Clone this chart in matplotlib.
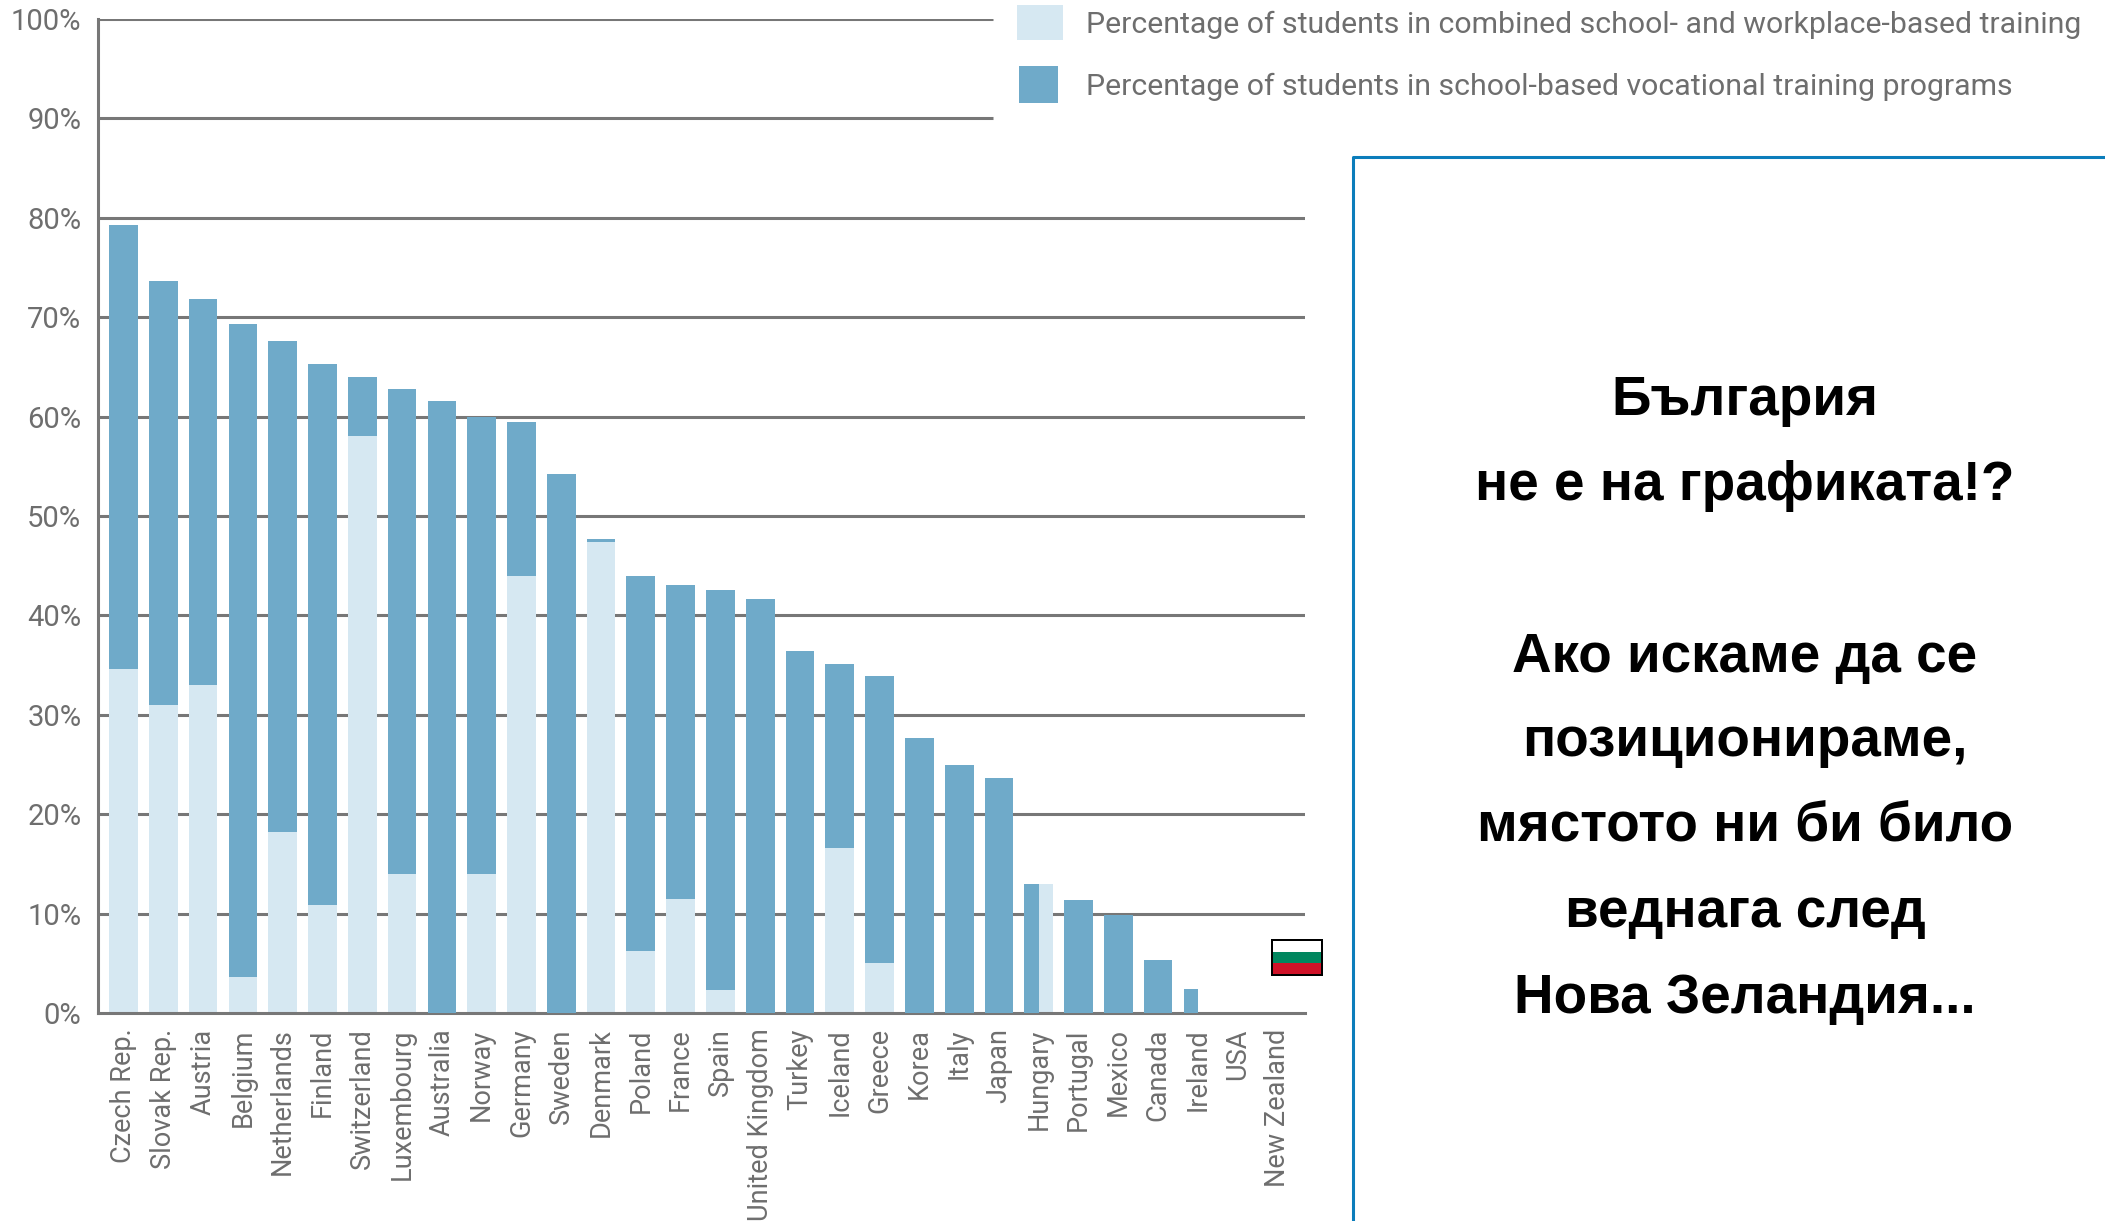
import matplotlib
matplotlib.use("Agg")
import matplotlib.pyplot as plt
from matplotlib.patches import Rectangle
import numpy as np

# --- data ---
countries = ["Czech Rep.", "Slovak Rep.", "Austria", "Belgium", "Netherlands", "Finland",
             "Switzerland", "Luxembourg", "Australia", "Norway", "Germany", "Sweden",
             "Denmark", "Poland", "France", "Spain", "United Kingdom", "Turkey", "Iceland",
             "Greece", "Korea", "Italy", "Japan", "Hungary", "Portugal", "Mexico", "Canada",
             "Ireland", "USA", "New Zealand"]
combined = [34.6, 31.0, 33.0, 3.6, 18.2, 10.9, 58.0, 14.0, 0, 14.0, 44.0, 0, 47.4, 6.2, 11.5,
            2.3, 0, 0, 16.6, 5.0, 0, 0, 0, 13.0, 0, 0, 0, 0, 0, 0]
school_based = [44.7, 42.6, 38.8, 65.7, 49.4, 54.4, 6.0, 48.8, 61.6, 46.0, 15.5, 54.2, 0.3,
                37.8, 31.6, 40.3, 41.6, 36.4, 18.5, 28.9, 27.7, 25.0, 23.6, 13.0, 11.4, 9.9,
                5.3, 2.4, 0, 0]
# in these two the series stand side by side in the source instead of stacked
side_by_side = ["Hungary", "Ireland"]
y_ticks = [0, 10, 20, 30, 40, 50, 60, 70, 80, 90, 100]

legend_labels = ["Percentage of students in combined school- and workplace-based training",
                 "Percentage of students in school-based vocational training programs"]
note_lines = ["България", "не е на графиката!?", "Ако искаме да се", "позиционираме,",
              "мястото ни би било", "веднага след", "Нова Зеландия..."]

W, H = 2105, 1221
LIGHT = "#d6e8f2"
DARK = "#6faac9"
GRID = "#777777"
TEXT = "#6e6e6e"
BLUE = "#0b7dbb"

plt.rcParams["font.family"] = ["Roboto", "DejaVu Sans"]


def fx(x):
    return x / W


def fy(y):
    return 1 - y / H


def px_rect(fig, x0, y0, x1, y1, **kw):
    """Rectangle given in picture pixels (y down)."""
    fig.add_artist(Rectangle((fx(x0), fy(y1)), (x1 - x0) / W, (y1 - y0) / H,
                             transform=fig.transFigure, **kw))


fig = plt.figure(figsize=(W / 100, H / 100), dpi=100)
ax = fig.add_axes([fx(98), fy(1013), (1305 - 98) / W, (1013 - 19) / H])

pos = np.arange(len(countries))
bar_w = 0.72

# gridlines: the top two stop short of the legend
for t in y_ticks[1:]:
    x_end = (993 - 98) / (1305 - 98) if t >= 90 else 1
    ax.plot([0, x_end], [t, t], color=GRID, lw=2.2, zorder=1,
            transform=ax.get_yaxis_transform(), solid_capstyle="butt")

for i, name in enumerate(countries):
    if name in side_by_side:
        ax.bar(i, combined[i], bar_w, color=LIGHT, zorder=2)
        ax.bar(i - bar_w / 4, school_based[i], bar_w / 2, color=DARK, zorder=3)
    else:
        ax.bar(i, combined[i], bar_w, color=LIGHT, zorder=2)
        ax.bar(i, school_based[i], bar_w, bottom=combined[i], color=DARK, zorder=3)

ax.set_xlim(-0.64, 29.69)
ax.set_ylim(0, 100)
ax.set_yticks(y_ticks)
ax.set_yticklabels([f"{t}%" for t in y_ticks], fontsize=21, color=TEXT)
ax.set_xticks(pos)
ax.set_xticklabels(countries, rotation=90, fontsize=19.5, color=TEXT)
ax.tick_params(axis="y", length=0, pad=12)
ax.tick_params(axis="x", length=0, pad=11)
for s in ["top", "right"]:
    ax.spines[s].set_visible(False)
for s in ["left", "bottom"]:
    ax.spines[s].set_color(GRID)
    ax.spines[s].set_linewidth(2.2)

# legend
px_rect(fig, 1017, 5, 1063, 40, color=LIGHT, lw=0)
px_rect(fig, 1019, 66, 1058, 103, color=DARK, lw=0)
fig.text(fx(1086), fy(25), legend_labels[0], fontsize=21.8, color=TEXT, va="center")
fig.text(fx(1086), fy(87), legend_labels[1], fontsize=21.8, color=TEXT, va="center")

# note box: only its top and left edges are in frame
fig.add_artist(plt.Line2D([fx(1353), fx(1353), 1], [0, fy(157), fy(157)],
                          color=BLUE, lw=2.2, transform=fig.transFigure))
note_y = [401, 486, 658, 742, 827, 913, 999]
for line, y in zip(note_lines, note_y):
    fig.text(fx(1745), fy(y), line, family="Liberation Sans", fontweight="bold",
             fontsize=39.5, color="black", ha="center", va="center")

# Bulgarian flag
px_rect(fig, 1271, 939, 1323, 976, facecolor="black", lw=0)
px_rect(fig, 1273, 941, 1321, 952, facecolor="white", lw=0)
px_rect(fig, 1273, 952, 1321, 963, facecolor="#00875f", lw=0)
px_rect(fig, 1273, 963, 1321, 974, facecolor="#cf1228", lw=0)

fig.savefig("out.png", dpi=100)
